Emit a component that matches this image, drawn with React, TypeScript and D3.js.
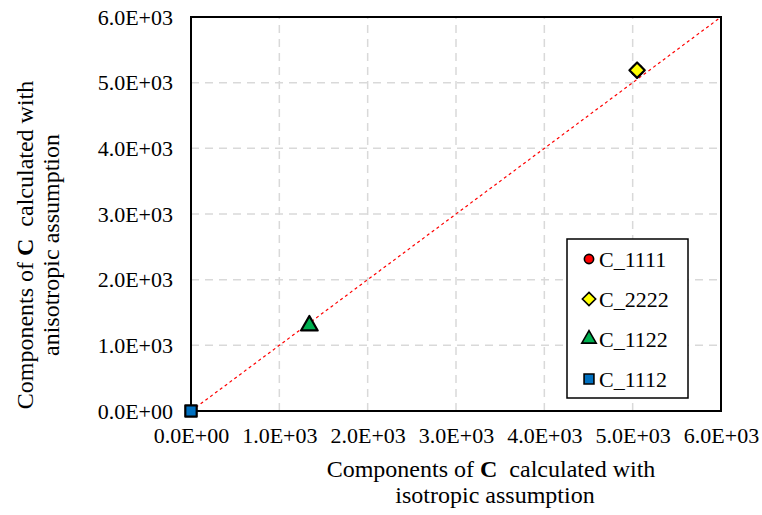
import * as d3 from "d3";
import { useEffect, useRef } from "react";

// series: [isotropic, anisotropic]
const seriesNames = ["C_1111", "C_2222", "C_1122", "C_1112"];
const isoValues = [5050, 5050, 1340, 0];
const anisoValues = [5190, 5190, 1300, 0];
const tickValues = [0, 1000, 2000, 3000, 4000, 5000, 6000];

const App = () => {
  const svgRef = useRef<SVGSVGElement>(null);

  useEffect(() => {
    const w = 762;
    const h = 515;
    const margin = { left: 191, right: 41, top: 17, bottom: 104 };
    const font = "'Liberation Serif', 'Times New Roman', serif";

    const svg = d3.select(svgRef.current)
      .attr("width", w)
      .attr("height", h)
      .style("position", "absolute")
      .style("left", "0px")
      .style("top", "0px")
      .style("background", "#fff");
    svg.selectAll("*").remove();

    const xScale = d3.scaleLinear().domain([0, 6000]).range([margin.left, w - margin.right]);
    const yScale = d3.scaleLinear().domain([0, 6000]).range([h - margin.bottom, margin.top]);

    // grid
    const grid = svg.append("g");
    grid.selectAll(".gx")
      .data(tickValues.slice(1, -1))
      .join("line")
      .attr("x1", (d) => xScale(d)).attr("x2", (d) => xScale(d))
      .attr("y1", yScale(0)).attr("y2", yScale(6000))
      .attr("stroke", "#d9d9d9").attr("stroke-width", 1.5).attr("stroke-dasharray", "8,6");
    grid.selectAll(".gy")
      .data(tickValues.slice(1, -1))
      .join("line")
      .attr("y1", (d) => yScale(d)).attr("y2", (d) => yScale(d))
      .attr("x1", xScale(0)).attr("x2", xScale(6000))
      .attr("stroke", "#d9d9d9").attr("stroke-width", 1.5).attr("stroke-dasharray", "8,6");

    // 1:1 line
    svg.append("line")
      .attr("x1", xScale(0)).attr("y1", yScale(0))
      .attr("x2", xScale(6000)).attr("y2", yScale(6000))
      .attr("stroke", "#ff0000").attr("stroke-width", 1.2).attr("stroke-dasharray", "3,3");

    // plot border
    svg.append("rect")
      .attr("x", xScale(0)).attr("y", yScale(6000))
      .attr("width", xScale(6000) - xScale(0))
      .attr("height", yScale(0) - yScale(6000))
      .attr("fill", "none").attr("stroke", "#000").attr("stroke-width", 2);

    const fmt = (d: number) => (d === 0 ? "0.0E+00" : (d / 1000).toFixed(1) + "E+03");

    // axes
    const xAxis = d3.axisBottom(xScale).tickValues(tickValues).tickFormat((d) => fmt(+d)).tickSize(0).tickPadding(16);
    const yAxis = d3.axisLeft(yScale).tickValues(tickValues).tickFormat((d) => fmt(+d)).tickSize(0).tickPadding(18);
    const gx = svg.append("g").attr("transform", `translate(0, ${yScale(0)})`).call(xAxis);
    const gy = svg.append("g").attr("transform", `translate(${xScale(0)}, 0)`).call(yAxis);
    [gx, gy].forEach((g) => {
      g.attr("font-family", null).attr("font-size", null);
      g.select(".domain").remove();
      g.selectAll("text").attr("font-family", font).attr("font-size", 22).attr("fill", "#000");
    });

    const symbols = [d3.symbolCircle, d3.symbolDiamond2, d3.symbolTriangle, d3.symbolSquare];
    const sizes = [90, 150, 120, 130];
    const colors = ["#ff0000", "#ffff00", "#00b050", "#0070c0"];

    // points
    svg.selectAll(".pt")
      .data(seriesNames)
      .join("path")
      .attr("transform", (d, i) => `translate(${xScale(isoValues[i])}, ${yScale(anisoValues[i])})`)
      .attr("d", (d, i) => d3.symbol(symbols[i], sizes[i])())
      .attr("fill", (d, i) => colors[i])
      .attr("stroke", "#000").attr("stroke-width", 2.2).attr("stroke-linejoin", "round");

    // legend
    const lg = svg.append("g");
    lg.append("rect")
      .attr("x", 567).attr("y", 239).attr("width", 121).attr("height", 159)
      .attr("fill", "#fff").attr("stroke", "#000").attr("stroke-width", 1.5);
    seriesNames.forEach((name, i) => {
      const y = 259 + i * 40;
      lg.append("path")
        .attr("transform", `translate(589, ${y})`)
        .attr("d", d3.symbol(symbols[i], sizes[i] * 0.75)())
        .attr("fill", colors[i]).attr("stroke", "#000").attr("stroke-width", 1.6);
      lg.append("text")
        .attr("x", 599).attr("y", y + 8)
        .attr("font-family", font).attr("font-size", 22)
        .text(name);
    });

    // x title
    const xt = svg.append("text").attr("font-family", font).attr("font-size", 24)
      .attr("text-anchor", "middle").attr("xml:space", "preserve").style("white-space", "pre");
    xt.append("tspan").attr("x", 491).attr("y", 477).text("Components of ");
    xt.append("tspan").attr("font-weight", "bold").text("C");
    xt.append("tspan").text("  calculated with");
    svg.append("text").attr("font-family", font).attr("font-size", 24).attr("text-anchor", "middle")
      .attr("x", 495).attr("y", 503).text("isotropic assumption");

    // y title
    const yt = svg.append("g").attr("transform", "translate(33, 245) rotate(-90)");
    const yt1 = yt.append("text").attr("font-family", font).attr("font-size", 24)
      .attr("text-anchor", "middle").attr("xml:space", "preserve").style("white-space", "pre");
    yt1.append("tspan").attr("x", 0).attr("y", 0).text("Components of ");
    yt1.append("tspan").attr("font-weight", "bold").text("C");
    yt1.append("tspan").text("  calculated with");
    yt.append("text").attr("font-family", font).attr("font-size", 24).attr("text-anchor", "middle")
      .attr("x", 0).attr("y", 26).text("anisotropic assumption");
  }, []);

  return <svg ref={svgRef}></svg>;
};

export default App;
